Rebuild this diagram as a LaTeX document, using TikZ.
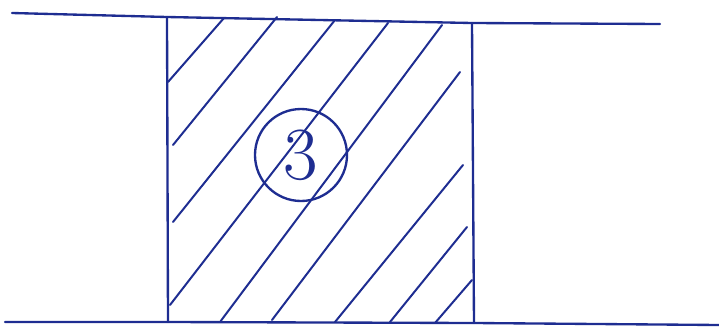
\documentclass[tikz,border=0pt]{standalone}
\usepackage{xcolor}
\usepackage{tikz}
\usetikzlibrary{positioning}

\definecolor{inkblue}{RGB}{30,45,145}

\begin{document}
\begin{tikzpicture}[
  x=0.03cm, y=-0.03cm,
  ink/.style={draw=inkblue, line width=2pt, line cap=round, line join=round},
  hatch/.style={draw=inkblue, line width=1.7pt, line cap=round},
  zone/.style={circle, draw=inkblue, line width=2pt, minimum size=2.76cm, inner sep=0pt, text=inkblue, font=\fontsize{64}{70}\selectfont}
]
  \useasboundingbox (0,0) rectangle (719,331);

  % Coordinates
  \coordinate (tl) at (167,17);
  \coordinate (tr) at (472,23);
  \coordinate (bl) at (168,322);
  \coordinate (br) at (474,323);

  % Lines
  \draw[ink] (12,13) -- (tl) -- (tr) -- (660,24);
  \draw[ink] (5,322) -- (bl) -- (br) -- (719,325);
  \draw[ink] (tl) -- (bl);
  \draw[ink] (tr) -- (br);

  % Hatching
  \foreach \xa/\ya/\xb/\yb in {224/18/168/82, 277/17/173/145, 335/20/173/222,
      388/23/170/305, 442/25/220/322, 460/72/272/320, 463/165/335/322,
      467/227/390/322, 472/280/435/323}
    \draw[hatch] (\xa,\ya) -- (\xb,\yb);

  % Nodes
  \node[zone] (three) at (301,155) {3};
\end{tikzpicture}
\end{document}
